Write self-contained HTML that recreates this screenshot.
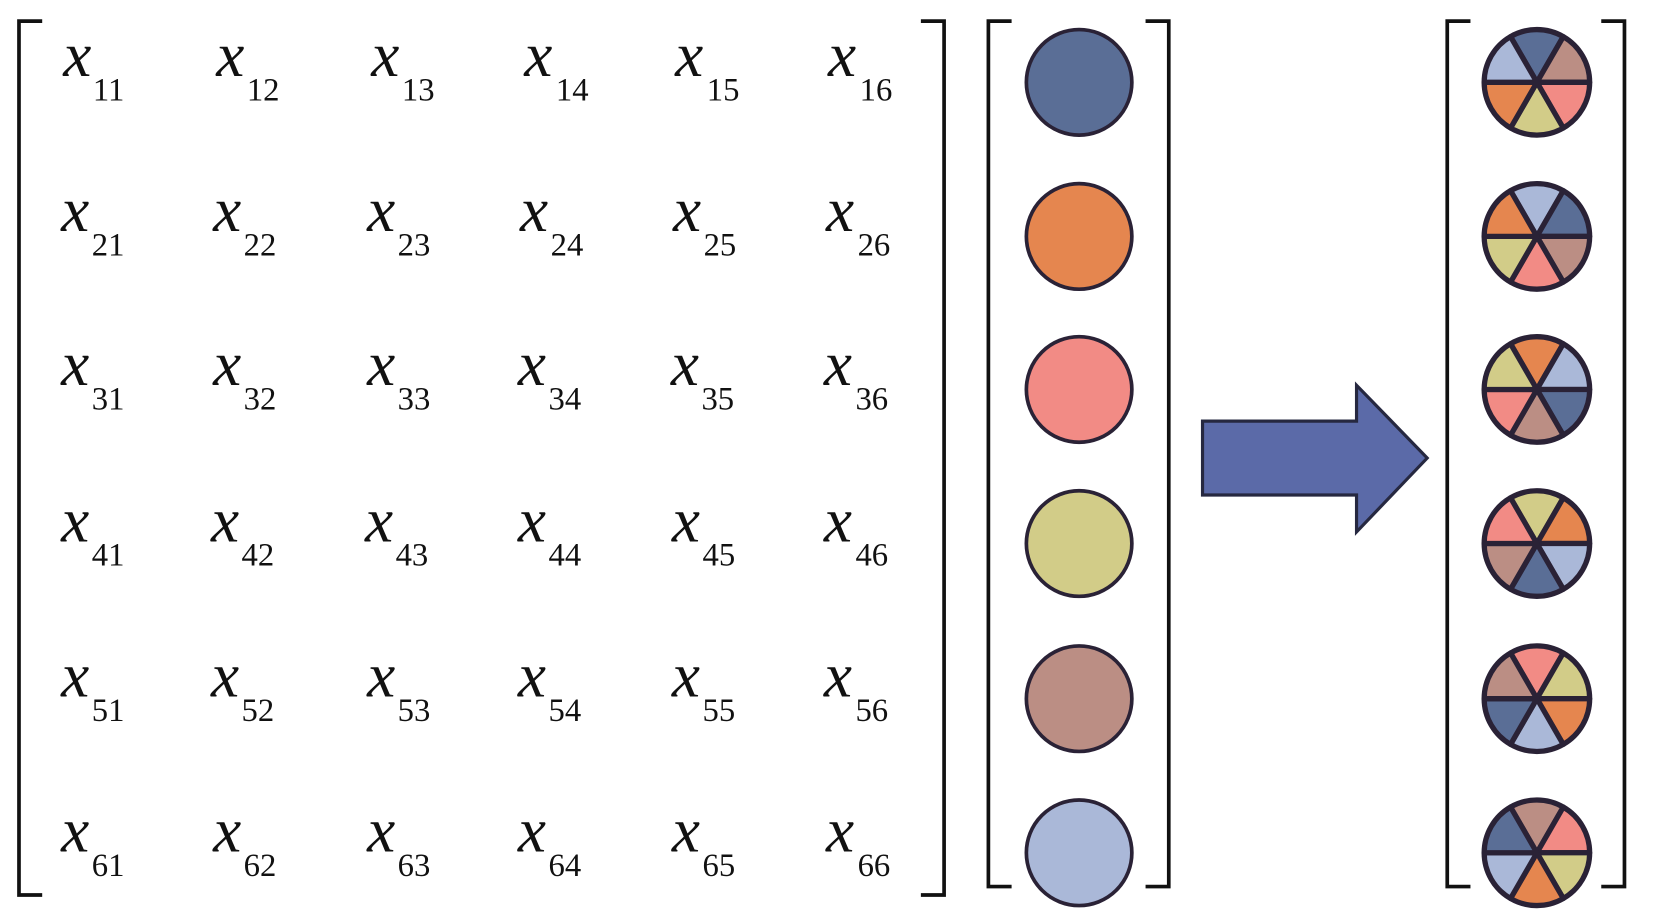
<!DOCTYPE html>
<html><head><meta charset="utf-8"><style>
html,body{margin:0;padding:0;background:#fff;}
svg{display:block}
text{font-family:"Liberation Serif",serif;fill:#111}
</style></head><body>
<svg width="1654" height="914" viewBox="0 0 1568 866" preserveAspectRatio="none" xmlns="http://www.w3.org/2000/svg">
<g fill="none" stroke="#111" stroke-width="3.5">
<path d="M40 20 H18 V848 H40"/>
<path d="M873 20 H895 V848 H873"/>
<path d="M959 20 H937 V840 H959"/>
<path d="M1086 20 H1108 V840 H1086"/>
<path d="M1394 20 H1372 V840 H1394"/>
<path d="M1518 20 H1540 V840 H1518"/>
</g>
<g font-size="60" font-style="italic">
<text x="60" y="72">x</text><text x="205" y="72">x</text><text x="352" y="72">x</text><text x="497" y="72">x</text><text x="640" y="72">x</text><text x="785" y="72">x</text>
<text x="58" y="219">x</text><text x="202" y="219">x</text><text x="348" y="219">x</text><text x="493" y="219">x</text><text x="638" y="219">x</text><text x="783" y="219">x</text>
<text x="58" y="365">x</text><text x="202" y="365">x</text><text x="348" y="365">x</text><text x="491" y="365">x</text><text x="636" y="365">x</text><text x="781" y="365">x</text>
<text x="58" y="513">x</text><text x="200" y="513">x</text><text x="346" y="513">x</text><text x="491" y="513">x</text><text x="637" y="513">x</text><text x="781" y="513">x</text>
<text x="58" y="660">x</text><text x="200" y="660">x</text><text x="348" y="660">x</text><text x="491" y="660">x</text><text x="637" y="660">x</text><text x="781" y="660">x</text>
<text x="58" y="807">x</text><text x="202" y="807">x</text><text x="348" y="807">x</text><text x="491" y="807">x</text><text x="637" y="807">x</text><text x="783" y="807">x</text>
</g>
<g font-size="31">
<text x="88" y="95">11</text><text x="234" y="95">12</text><text x="381" y="95">13</text><text x="527" y="95">14</text><text x="670" y="95">15</text><text x="815" y="95">16</text>
<text x="87" y="242">21</text><text x="231" y="242">22</text><text x="377" y="242">23</text><text x="522" y="242">24</text><text x="667" y="242">25</text><text x="813" y="242">26</text>
<text x="87" y="388">31</text><text x="231" y="388">32</text><text x="377" y="388">33</text><text x="520" y="388">34</text><text x="665" y="388">35</text><text x="811" y="388">36</text>
<text x="87" y="536">41</text><text x="229" y="536">42</text><text x="375" y="536">43</text><text x="520" y="536">44</text><text x="666" y="536">45</text><text x="811" y="536">46</text>
<text x="87" y="683">51</text><text x="229" y="683">52</text><text x="377" y="683">53</text><text x="520" y="683">54</text><text x="666" y="683">55</text><text x="811" y="683">56</text>
<text x="87" y="830">61</text><text x="231" y="830">62</text><text x="377" y="830">63</text><text x="520" y="830">64</text><text x="666" y="830">65</text><text x="813" y="830">66</text>
</g>
<g stroke="#2a2236" stroke-width="3.5">
<circle cx="1023" cy="78" r="50" fill="#5a6e96"/>
<circle cx="1023" cy="224" r="50" fill="#e5864f"/>
<circle cx="1023" cy="369" r="50" fill="#f28b85"/>
<circle cx="1023" cy="515" r="50" fill="#d2cc88"/>
<circle cx="1023" cy="662" r="50" fill="#bb8e84"/>
<circle cx="1023" cy="808" r="50" fill="#aab8d8"/>
</g>
<path d="M1134 399 H1280 V365 L1347 434 L1280 504 V469 H1134 Z" transform="translate(6 0)" fill="#5b6aa8" stroke="#262840" stroke-width="3"/>
<defs>
<path id="s" d="M0 0 L-25 -43.3 A50 50 0 0 1 25 -43.3 Z" stroke="#2a2236" stroke-width="5" stroke-linejoin="round"/>
</defs>
<g transform="translate(1457 78)">
<use href="#s" fill="#5a6e96"/><use href="#s" fill="#bb8e84" transform="rotate(60)"/><use href="#s" fill="#f28b85" transform="rotate(120)"/><use href="#s" fill="#d2cc88" transform="rotate(180)"/><use href="#s" fill="#e5864f" transform="rotate(240)"/><use href="#s" fill="#aab8d8" transform="rotate(300)"/>
<circle r="50" fill="none" stroke="#2a2236" stroke-width="4"/></g>
<g transform="translate(1457 224)">
<use href="#s" fill="#aab8d8"/><use href="#s" fill="#5a6e96" transform="rotate(60)"/><use href="#s" fill="#bb8e84" transform="rotate(120)"/><use href="#s" fill="#f28b85" transform="rotate(180)"/><use href="#s" fill="#d2cc88" transform="rotate(240)"/><use href="#s" fill="#e5864f" transform="rotate(300)"/>
<circle r="50" fill="none" stroke="#2a2236" stroke-width="4"/></g>
<g transform="translate(1457 369)">
<use href="#s" fill="#e5864f"/><use href="#s" fill="#aab8d8" transform="rotate(60)"/><use href="#s" fill="#5a6e96" transform="rotate(120)"/><use href="#s" fill="#bb8e84" transform="rotate(180)"/><use href="#s" fill="#f28b85" transform="rotate(240)"/><use href="#s" fill="#d2cc88" transform="rotate(300)"/>
<circle r="50" fill="none" stroke="#2a2236" stroke-width="4"/></g>
<g transform="translate(1457 515)">
<use href="#s" fill="#d2cc88"/><use href="#s" fill="#e5864f" transform="rotate(60)"/><use href="#s" fill="#aab8d8" transform="rotate(120)"/><use href="#s" fill="#5a6e96" transform="rotate(180)"/><use href="#s" fill="#bb8e84" transform="rotate(240)"/><use href="#s" fill="#f28b85" transform="rotate(300)"/>
<circle r="50" fill="none" stroke="#2a2236" stroke-width="4"/></g>
<g transform="translate(1457 662)">
<use href="#s" fill="#f28b85"/><use href="#s" fill="#d2cc88" transform="rotate(60)"/><use href="#s" fill="#e5864f" transform="rotate(120)"/><use href="#s" fill="#aab8d8" transform="rotate(180)"/><use href="#s" fill="#5a6e96" transform="rotate(240)"/><use href="#s" fill="#bb8e84" transform="rotate(300)"/>
<circle r="50" fill="none" stroke="#2a2236" stroke-width="4"/></g>
<g transform="translate(1457 808)">
<use href="#s" fill="#bb8e84"/><use href="#s" fill="#f28b85" transform="rotate(60)"/><use href="#s" fill="#d2cc88" transform="rotate(120)"/><use href="#s" fill="#e5864f" transform="rotate(180)"/><use href="#s" fill="#aab8d8" transform="rotate(240)"/><use href="#s" fill="#5a6e96" transform="rotate(300)"/>
<circle r="50" fill="none" stroke="#2a2236" stroke-width="4"/></g>
</svg>
</body></html>
